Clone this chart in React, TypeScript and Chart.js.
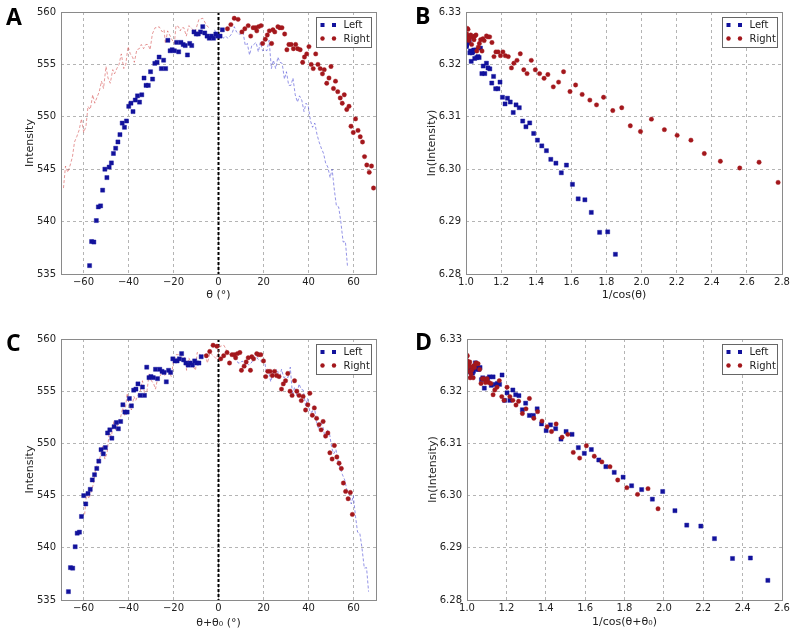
import React, { useEffect, useRef } from 'react';
import { Chart, registerables } from 'chart.js';

Chart.register(...registerables);

// ---------------- data ----------------
const leftTheta = [
  -57.3, -56.4, -55.4, -54.3, -53.4, -52.4, -51.5, -50.5, -49.6, -48.6,
  -47.6, -46.7, -45.7, -44.7, -43.8, -42.8, -41.8, -40.9, -39.9, -38.9,
  -38.0, -37.0, -36.0, -35.1, -34.1, -33.1, -32.2, -31.2, -30.2, -29.3,
  -28.3, -27.3, -26.4, -25.4, -24.4, -23.5, -22.5, -21.5, -20.6, -19.6,
  -18.6, -17.7, -16.7, -15.7, -14.8, -13.8, -12.8, -11.9, -10.9, -9.9,
  -9.0, -8.0, -7.0, -6.1, -5.1, -4.1, -3.2, -2.2, -1.2, -0.3, 0.7, 1.7,
];
const leftIntensity = [
  535.8, 538.1, 538.05, 540.1, 541.4, 541.5, 543.0, 545.0, 544.2, 545.2,
  545.6, 546.5, 547.0, 547.6, 548.3, 549.4, 549.0, 549.6, 551.0, 551.3,
  550.5, 551.6, 552.0, 551.4, 552.1, 553.7, 553.0, 553.0, 554.3, 553.6,
  555.1, 555.2, 555.7, 554.6, 555.4, 554.6, 557.3, 556.3, 556.4, 556.3,
  557.1, 556.2, 557.1, 556.9, 556.8, 555.9, 557.0, 556.8, 558.1, 557.9,
  557.9, 558.1, 558.6, 558.0, 557.7, 557.5, 557.7, 557.5, 557.9, 557.7, 557.7, 558.3,
];
const rightTheta = [
  4.0, 5.5, 7.0, 8.7, 10.4, 11.7, 13.2, 14.3, 15.4, 16.4,
  17.0, 17.8, 18.9, 19.6, 20.8, 21.7, 22.6, 23.6, 24.2, 25.0,
  26.4, 27.2, 28.2, 29.4, 30.4, 31.3, 32.3, 33.3, 34.3, 35.2,
  36.3, 37.4, 38.2, 39.2, 40.2, 41.2, 42.1, 43.2, 44.2, 45.2,
  46.2, 47.0, 48.1, 49.1, 50.0, 51.1, 52.0, 53.0, 54.1, 55.0,
  55.9, 57.0, 58.0, 58.9, 59.9, 60.9, 62.0, 63.0, 64.0, 64.9,
  65.9, 67.0, 68.0, 68.9,
];
const rightIntensity = [
  558.4, 558.8, 559.4, 559.3, 558.1, 558.4, 558.7, 557.7, 558.5, 558.5,
  558.2, 558.6, 558.7, 557.0, 557.4, 557.8, 558.2, 557.0, 558.3, 558.1,
  558.6, 558.5, 558.5, 557.9, 556.4, 556.9, 556.9, 556.5, 556.9, 556.5,
  556.4, 555.2, 555.7, 556.0, 556.7, 555.0, 554.6, 556.0, 555.0, 554.6,
  554.1, 554.5, 553.2, 553.7, 554.8, 552.7, 553.4, 552.4, 551.8, 551.3,
  552.1, 550.7, 551.0, 549.1, 548.5, 549.8, 548.7, 548.1, 547.6, 546.2,
  545.4, 544.7, 545.3, 543.2,
];
// angular offset applied in panels C and D (degrees)
const theta0 = -9.4;

const seriesLabels = ['Left', 'Right'];
const panelLetters = ['A', 'B', 'C', 'D'];
const thetaTicks = [-60, -40, -20, 0, 20, 40, 60];
const intensityTicks = [535, 540, 545, 550, 555, 560];
const lnTicks = [6.28, 6.29, 6.3, 6.31, 6.32, 6.33];
const invCosTicksB = [1.0, 1.2, 1.4, 1.6, 1.8, 2.0, 2.2, 2.4, 2.6, 2.8];
const invCosTicksD = [1.0, 1.2, 1.4, 1.6, 1.8, 2.0, 2.2, 2.4, 2.6];

// ---------------- styling ----------------
const BLUE = '#12129c';
const RED = '#a3171c';
const BLUE_LINE = 'rgba(60,60,210,0.55)';
const RED_LINE = 'rgba(210,70,70,0.55)';
const FONT = '"DejaVu Sans", sans-serif';
const TEXT = '#222';

type Pt = { x: number; y: number };
const toRad = (d: number) => (d * Math.PI) / 180;
const zip = (xs: number[], ys: number[], fx: (v: number) => number, fy: (v: number) => number): Pt[] =>
  xs.map((t, i) => ({ x: fx(t), y: fy(ys[i]) }));
const same = (v: number) => v;
const shifted = (v: number) => v + theta0;
const mirrored = (v: number) => -v;
const mirroredShifted = (v: number) => -(v + theta0);
const invCos = (v: number) => 1 / Math.cos(toRad(v));
const invCosShifted = (v: number) => 1 / Math.cos(toRad(v + theta0));
const ln = (v: number) => Math.log(v);

function pointSet(label: string, data: Pt[], color: string, style: string) {
  return {
    label,
    data,
    showLine: false,
    pointStyle: style,
    pointRadius: style === 'rect' ? 2.9 : 2.2,
    pointHoverRadius: 0,
    backgroundColor: color,
    borderColor: color,
    borderWidth: 0.4,
  };
}
function lineSet(data: Pt[], color: string) {
  const sorted = [...data].sort((a, b) => a.x - b.x);
  return {
    label: '',
    data: sorted,
    showLine: true,
    borderColor: color,
    borderWidth: 1,
    borderDash: [3, 2],
    pointRadius: 0,
    pointHoverRadius: 0,
    fill: false,
    tension: 0,
  };
}

type Rect = { l: number; t: number; r: number; b: number };
type PanelSpec = {
  letter: string;
  letterPos: [number, number];
  canvas: { left: number; top: number; w: number; h: number };
  area: Rect;
  xRange: [number, number];
  yRange: [number, number];
  xTicks: number[];
  yTicks: number[];
  xDec: number;
  yDec: number;
  xTitle: string;
  yTitle: string;
  xTitleY: number;
  yTitleX: number;
  zeroLine: boolean;
  datasets: any[];
};

const fmt = (v: number, d: number) => v.toFixed(d).replace('-', '\u2212');

const panels: PanelSpec[] = [
  {
    letter: panelLetters[0],
    letterPos: [6, 25],
    canvas: { left: 0, top: 0, w: 400, h: 319 },
    area: { l: 61, t: 12, r: 376, b: 274 },
    xRange: [-70, 70],
    yRange: [535, 560],
    xTicks: thetaTicks,
    yTicks: intensityTicks,
    xDec: 0,
    yDec: 0,
    xTitle: 'θ (°)',
    yTitle: 'Intensity',
    xTitleY: 295,
    yTitleX: 30,
    zeroLine: true,
    datasets: [
      pointSet(seriesLabels[1], zip(rightTheta, rightIntensity, same, same), RED, 'circle'),
      pointSet(seriesLabels[0], zip(leftTheta, leftIntensity, same, same), BLUE, 'rect'),
      lineSet(zip(rightTheta, rightIntensity, mirrored, same), RED_LINE),
      lineSet(zip(leftTheta, leftIntensity, mirrored, same), BLUE_LINE),
    ],
  },
  {
    letter: panelLetters[1],
    letterPos: [415, 24],
    canvas: { left: 400, top: 0, w: 400, h: 319 },
    area: { l: 466, t: 12, r: 782, b: 274 },
    xRange: [1.0, 2.8],
    yRange: [6.28, 6.33],
    xTicks: invCosTicksB,
    yTicks: lnTicks,
    xDec: 1,
    yDec: 2,
    xTitle: '1/cos(θ)',
    yTitle: 'ln(Intensity)',
    xTitleY: 295,
    yTitleX: 432,
    zeroLine: false,
    datasets: [
      pointSet(seriesLabels[1], zip(rightTheta, rightIntensity, invCos, ln), RED, 'circle'),
      pointSet(seriesLabels[0], zip(leftTheta, leftIntensity, invCos, ln), BLUE, 'rect'),
    ],
  },
  {
    letter: panelLetters[2],
    letterPos: [6, 351],
    canvas: { left: 0, top: 319, w: 400, h: 319 },
    area: { l: 61, t: 339, r: 376, b: 600 },
    xRange: [-70, 70],
    yRange: [535, 560],
    xTicks: thetaTicks,
    yTicks: intensityTicks,
    xDec: 0,
    yDec: 0,
    xTitle: 'θ+θ₀ (°)',
    yTitle: 'Intensity',
    xTitleY: 623,
    yTitleX: 30,
    zeroLine: true,
    datasets: [
      pointSet(seriesLabels[1], zip(rightTheta, rightIntensity, shifted, same), RED, 'circle'),
      pointSet(seriesLabels[0], zip(leftTheta, leftIntensity, shifted, same), BLUE, 'rect'),
      lineSet(zip(rightTheta, rightIntensity, mirroredShifted, same), RED_LINE),
      lineSet(zip(leftTheta, leftIntensity, mirroredShifted, same), BLUE_LINE),
    ],
  },
  {
    letter: panelLetters[3],
    letterPos: [415, 350],
    canvas: { left: 400, top: 319, w: 400, h: 319 },
    area: { l: 467, t: 339, r: 782, b: 600 },
    xRange: [1.0, 2.6],
    yRange: [6.28, 6.33],
    xTicks: invCosTicksD,
    yTicks: lnTicks,
    xDec: 1,
    yDec: 2,
    xTitle: '1/cos(θ+θ₀)',
    yTitle: 'ln(Intensity)',
    xTitleY: 622,
    yTitleX: 433,
    zeroLine: false,
    datasets: [
      pointSet(seriesLabels[1], zip(rightTheta, rightIntensity, invCosShifted, ln), RED, 'circle'),
      pointSet(seriesLabels[0], zip(leftTheta, leftIntensity, invCosShifted, ln), BLUE, 'rect'),
    ],
  },
];

const legendItems = [
  { label: seriesLabels[0], color: BLUE, style: 'rect' },
  { label: seriesLabels[1], color: RED, style: 'circle' },
];

function Panel({ spec }: { spec: PanelSpec }) {
  const ref = useRef<HTMLCanvasElement | null>(null);
  useEffect(() => {
    if (!ref.current) return;
    const { canvas, area } = spec;
    const a = {
      l: area.l - canvas.left,
      r: area.r - canvas.left,
      t: area.t - canvas.top,
      b: area.b - canvas.top,
    };
    const titleSize = 11;
    const tickSize = 10;
    const lh = titleSize * 1.2;
    const decor = {
      id: 'decor',
      beforeDatasetsDraw(chart: any) {
        if (!spec.zeroLine) return;
        const ctx = chart.ctx;
        const ca = chart.chartArea;
        const x = chart.scales.x.getPixelForValue(0);
        ctx.save();
        ctx.strokeStyle = '#000';
        ctx.lineWidth = 2;
        ctx.setLineDash([3, 2]);
        ctx.beginPath();
        ctx.moveTo(x, ca.top);
        ctx.lineTo(x, ca.bottom);
        ctx.stroke();
        ctx.restore();
      },
      afterDraw(chart: any) {
        const ctx = chart.ctx;
        const ca = chart.chartArea;
        ctx.save();
        // frame
        ctx.strokeStyle = '#8a8a8a';
        ctx.lineWidth = 1;
        ctx.setLineDash([]);
        ctx.strokeRect(Math.round(ca.left) + 0.5, Math.round(ca.top) + 0.5, Math.round(ca.right - ca.left), Math.round(ca.bottom - ca.top));
        // legend
        const bw = 55;
        const bh = 30;
        const bx = Math.round(ca.right - 5 - bw) + 0.5;
        const by = Math.round(ca.top + 5) + 0.5;
        ctx.fillStyle = '#fff';
        ctx.fillRect(bx, by, bw, bh);
        ctx.strokeStyle = '#666';
        ctx.strokeRect(bx, by, bw, bh);
        legendItems.forEach((it, i) => {
          const cy = by + 7.5 + i * 13.5;
          [6, 17.5].forEach((dx) => {
            ctx.fillStyle = it.color;
            if (it.style === 'rect') {
              ctx.fillRect(bx + dx - 2, cy - 2, 4, 4);
            } else {
              ctx.beginPath();
              ctx.arc(bx + dx, cy, 2.2, 0, Math.PI * 2);
              ctx.fill();
            }
          });
          ctx.fillStyle = TEXT;
          ctx.font = `10px ${FONT}`;
          ctx.textBaseline = 'middle';
          ctx.textAlign = 'left';
          ctx.fillText(it.label, bx + 27, cy + 0.5);
        });
        // panel letter
        ctx.fillStyle = '#000';
        ctx.font = `bold 23px "Open Sans", ${FONT}`;
        ctx.textBaseline = 'alphabetic';
        ctx.textAlign = 'left';
        ctx.fillText(spec.letter, spec.letterPos[0] - canvas.left, spec.letterPos[1] - canvas.top);
        ctx.restore();
      },
    };
    const chart = new Chart(ref.current, {
      type: 'scatter',
      data: { datasets: spec.datasets },
      plugins: [decor],
      options: {
        animation: false,
        responsive: false,
        maintainAspectRatio: false,
        events: [],
        layout: { padding: { left: 0, top: a.t, right: canvas.w - a.r, bottom: 0 } },
        plugins: {
          legend: { display: false },
          tooltip: { enabled: false },
          title: { display: false },
        },
        scales: {
          x: {
            type: 'linear',
            position: 'bottom',
            min: spec.xRange[0],
            max: spec.xRange[1],
            afterBuildTicks: (s: any) => {
              s.ticks = spec.xTicks.map((v) => ({ value: v }));
            },
            afterFit: (s: any) => {
              s.height = canvas.h - a.b;
            },
            ticks: {
              autoSkip: false,
              maxRotation: 0,
              padding: 2,
              color: TEXT,
              font: { family: FONT, size: tickSize },
              callback: (v: any) => fmt(Number(v), spec.xDec),
            },
            grid: { color: '#b4b4b4', lineWidth: 1, drawTicks: false },
            border: { display: false, dash: [3, 3] },
            title: {
              display: true,
              text: spec.xTitle,
              color: TEXT,
              font: { family: FONT, size: titleSize },
              padding: { top: 0, bottom: canvas.h - (spec.xTitleY - canvas.top) - lh / 2 },
            },
          },
          y: {
            type: 'linear',
            position: 'left',
            min: spec.yRange[0],
            max: spec.yRange[1],
            afterBuildTicks: (s: any) => {
              s.ticks = spec.yTicks.map((v) => ({ value: v }));
            },
            afterFit: (s: any) => {
              s.width = a.l;
            },
            ticks: {
              autoSkip: false,
              padding: 5,
              color: TEXT,
              font: { family: FONT, size: tickSize },
              callback: (v: any) => fmt(Number(v), spec.yDec),
            },
            grid: { color: '#b4b4b4', lineWidth: 1, drawTicks: false },
            border: { display: false, dash: [3, 3] },
            title: {
              display: true,
              text: spec.yTitle,
              color: TEXT,
              font: { family: FONT, size: titleSize },
              padding: { top: spec.yTitleX - canvas.left - lh / 2, bottom: 0 },
            },
          },
        },
      } as any,
    });
    return () => chart.destroy();
  }, [spec]);
  const { canvas } = spec;
  return (
    <canvas
      ref={ref}
      width={canvas.w}
      height={canvas.h}
      style={{ position: 'absolute', left: canvas.left, top: canvas.top, width: canvas.w, height: canvas.h }}
    />
  );
}

export default function App() {
  return (
    <div style={{ position: 'absolute', left: 0, top: 0, width: 800, height: 638, background: '#fff', overflow: 'hidden' }}>
      {panels.map((p) => (
        <Panel key={p.letter} spec={p} />
      ))}
    </div>
  );
}
